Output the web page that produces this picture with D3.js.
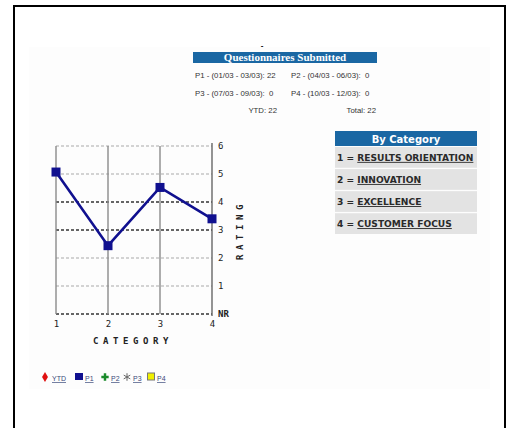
<!DOCTYPE html>
<html><head><meta charset="utf-8">
<script src="https://cdn.jsdelivr.net/npm/d3@7"></script>
<style>body{margin:0;background:#fff}svg{display:block}</style>
</head><body>
<svg id="c" width="510" height="428"></svg>
<script>
// ---- data ----
const categories = [1, 2, 3, 4];
const ratings = [5.07, 2.44, 4.52, 3.40];
const yTicks = [0, 1, 2, 3, 4, 5, 6];
const yTickLabels = ["NR", "1", "2", "3", "4", "5", "6"];
const periodLabels = ["P1 - (01/03 - 03/03): 22", "P2 - (04/03 - 06/03):  0", "P3 - (07/03 - 09/03):  0", "P4 - (10/03 - 12/03):  0"];
const ytdLabel = "YTD: 22";
const totalLabel = "Total: 22";
const categoryNames = ["RESULTS ORIENTATION", "INNOVATION", "EXCELLENCE", "CUSTOMER FOCUS"];
const legendItems = ["YTD", "P1", "P2", "P3", "P4"];

const svg = d3.select("#c");
// outer frame
svg.append("rect").attr("x", 14).attr("y", 6).attr("width", 491).attr("height", 440)
  .attr("fill", "none").attr("stroke", "#000").attr("stroke-width", 2);
svg.append("rect").attr("x", 29).attr("y", 47).attr("width", 461).attr("height", 342)
  .attr("fill", "#fdfdfd");

// ---- Questionnaires panel ----
svg.append("text").attr("x", 262).attr("y", 48).attr("text-anchor", "middle")
  .attr("font-family", "Liberation Sans").attr("font-size", 8).attr("font-weight", "bold").text("-");
svg.append("rect").attr("x", 193).attr("y", 52).attr("width", 184).attr("height", 11).attr("fill", "#1a67a3");
svg.append("text").attr("x", 285).attr("y", 61).attr("text-anchor", "middle")
  .attr("font-family", "Liberation Serif").attr("font-weight", "bold").attr("font-size", 11)
  .attr("fill", "#fff").text("Questionnaires Submitted");
const pPos = [[195, 78], [291, 78], [195, 96], [291, 96]];
svg.selectAll("text.per").data(periodLabels).join("text").attr("class", "per")
  .attr("x", (d, i) => pPos[i][0]).attr("y", (d, i) => pPos[i][1])
  .attr("font-family", "Liberation Sans").attr("font-size", 7.8).attr("fill", "#333")
  .style("white-space", "pre").text(d => d);
svg.append("text").attr("x", 277).attr("y", 113).attr("text-anchor", "end")
  .attr("font-family", "Liberation Sans").attr("font-size", 7.8).attr("fill", "#333").text(ytdLabel);
svg.append("text").attr("x", 376).attr("y", 113).attr("text-anchor", "end")
  .attr("font-family", "Liberation Sans").attr("font-size", 7.8).attr("fill", "#333").text(totalLabel);

// ---- By Category panel ----
svg.append("rect").attr("x", 335).attr("y", 131).attr("width", 142).attr("height", 15).attr("fill", "#1a67a3");
svg.append("text").attr("x", 406).attr("y", 142.5).attr("text-anchor", "middle")
  .attr("font-family", "DejaVu Sans").attr("font-weight", "bold").attr("font-size", 10)
  .attr("fill", "#fff").text("By Category");
const rowY = d3.scaleBand().domain(d3.range(categoryNames.length)).range([147, 234]).paddingInner(0.06);
const rows = svg.selectAll("g.row").data(categoryNames).join("g").attr("class", "row");
rows.append("rect").attr("x", 335).attr("y", (d, i) => rowY(i)).attr("width", 142)
  .attr("height", rowY.bandwidth()).attr("fill", "#e3e3e3");
rows.append("text").attr("x", 337).attr("y", (d, i) => rowY(i) + rowY.bandwidth() / 2 + 3.5)
  .attr("font-family", "DejaVu Sans").attr("font-weight", "bold").attr("font-size", 9.1)
  .attr("fill", "#2a2a2a").style("white-space", "pre")
  .each(function (d, i) {
    const t = d3.select(this);
    t.append("tspan").text((i + 1) + " = ");
    t.append("tspan").attr("text-decoration", "underline").text(d);
  });

// ---- chart ----
const x = d3.scaleLinear().domain([1, 4]).range([56, 212]);
const y = d3.scaleLinear().domain([0, 6]).range([314, 146]);
const g = svg.append("g");
const darkLines = [0, 3, 4];
g.selectAll("line.h").data(yTicks).join("line").attr("class", "h")
  .attr("x1", x(1)).attr("x2", x(4)).attr("y1", d => y(d)).attr("y2", d => y(d))
  .attr("stroke", d => darkLines.includes(d) ? "#333" : "#aaa")
  .attr("stroke-width", d => darkLines.includes(d) ? 1.3 : 1.2)
  .attr("stroke-dasharray", "3,2");
g.selectAll("line.v").data(categories.slice(0, 3)).join("line").attr("class", "v")
  .attr("x1", d => x(d)).attr("x2", d => x(d)).attr("y1", y(6)).attr("y2", y(0))
  .attr("stroke", "#8a8a8a").attr("stroke-width", 1.4);
// right axis
const yAxis = d3.axisRight(y).tickValues(yTicks).tickFormat((d, i) => yTickLabels[i]).tickSize(0).tickPadding(6);
const ay = g.append("g").attr("transform", `translate(${x(4)},0)`).call(yAxis);
ay.select(".domain").attr("stroke", "#666").attr("stroke-width", 1.4).attr("d", `M0,${y(6) - 3}V${y(0) + 2}`);
ay.selectAll(".tick text").attr("font-family", "DejaVu Sans Mono").attr("font-size", 9)
  .attr("font-weight", d => d === 0 ? "bold" : "normal").attr("fill", "#222");
// bottom axis labels
const xAxis = d3.axisBottom(x).tickValues(categories).tickFormat(d3.format("d")).tickSize(0);
const ax = g.append("g").attr("transform", `translate(0,${y(0) + 4})`).call(xAxis);
ax.select(".domain").remove();
ax.selectAll(".tick text").attr("font-family", "DejaVu Sans Mono").attr("font-size", 9).attr("fill", "#222");
// axis titles
g.append("text").attr("x", 133).attr("y", 344).attr("text-anchor", "middle")
  .attr("font-family", "DejaVu Sans Mono").attr("font-weight", "bold").attr("font-size", 9)
  .attr("letter-spacing", 4.6).attr("fill", "#222").text("CATEGORY");
g.append("text").attr("transform", "translate(243,230) rotate(-90)").attr("text-anchor", "middle")
  .attr("font-family", "DejaVu Sans Mono").attr("font-weight", "bold").attr("font-size", 9)
  .attr("letter-spacing", 4.6).attr("fill", "#222").text("RATING");
// data line
const pts = categories.map((c, i) => [c, ratings[i]]);
g.append("path").datum(pts).attr("fill", "none").attr("stroke", "#10108f").attr("stroke-width", 2.6)
  .attr("d", d3.line().x(d => x(d[0])).y(d => y(d[1])));
g.selectAll("rect.m").data(pts).join("rect").attr("class", "m")
  .attr("x", d => x(d[0]) - 4.5).attr("y", d => y(d[1]) - 4.5).attr("width", 9).attr("height", 9)
  .attr("fill", "#10108f");

// ---- legend ----
const lx = d3.scaleOrdinal().domain(legendItems).range([45, 79, 105, 127, 151]);
const lg = svg.selectAll("g.leg").data(legendItems).join("g").attr("class", "leg")
  .attr("transform", d => `translate(${lx(d)},377)`);
lg.each(function (d, i) {
  const s = d3.select(this);
  if (i === 0) s.append("path").attr("d", d3.symbol(d3.symbolDiamond, 30)()).attr("fill", "#e01010");
  if (i === 1) s.append("rect").attr("x", -4).attr("y", -4).attr("width", 8).attr("height", 7).attr("fill", "#10108f");
  if (i === 2) s.append("path").attr("d", d3.symbol(d3.symbolCross, 30)()).attr("fill", "#1a8a2a");
  if (i === 3) s.append("path").attr("d", d3.symbol(d3.symbolAsterisk, 40)()).attr("fill", "none")
    .attr("stroke", "#666").attr("stroke-width", 1);
  if (i === 4) s.append("rect").attr("x", -3.5).attr("y", -4).attr("width", 7).attr("height", 7)
    .attr("fill", "#f0f000").attr("stroke", "#777").attr("stroke-width", 1);
  s.append("text").attr("x", i === 0 ? 7 : 6).attr("y", 4).attr("font-family", "Liberation Sans").attr("font-size", 7)
    .attr("fill", "#3a4a7a").attr("text-decoration", "underline").text(d);
});
</script>
</body></html>
